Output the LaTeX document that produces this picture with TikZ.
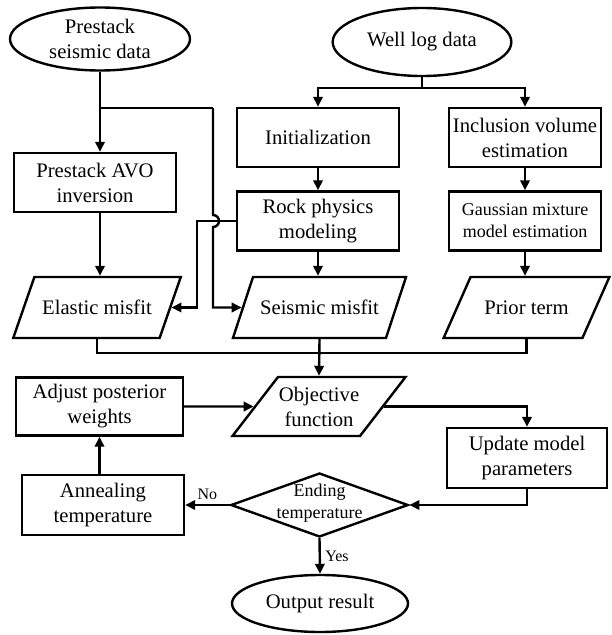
\documentclass[tikz,border=0pt]{standalone}
\usepackage{fontspec}
\setmainfont{Liberation Serif}
\usetikzlibrary{positioning, arrows.meta, shapes.geometric, calc}

\begin{document}
\begin{tikzpicture}[
    x=0.75pt, y=0.75pt,
    line width=1.8pt,
    every node/.style={
        font=\fontsize{15.5}{18.75}\selectfont,
        align=center
    },
    proc/.style={draw, rectangle, minimum width=121.5pt, minimum height=44.25pt, inner sep=2pt},
    data/.style={draw, trapezium, trapezium left angle=61, trapezium right angle=119,
        trapezium stretches=true, minimum height=45.75pt, inner xsep=-12pt},
    term/.style={draw, ellipse, inner sep=0pt},
    decision/.style={draw, diamond, inner sep=0pt, minimum width=133pt, minimum height=48pt},
    small/.style={font=\fontsize{13.5}{16.5}\selectfont},
    tag/.style={font=\fontsize{12}{14}\selectfont},
    arrow/.style={-{Triangle[length=7.5pt, width=7pt]}}
]
\useasboundingbox (0,0) rectangle (611,-635);

% inputs
\node[term, minimum width=135pt, minimum height=47.25pt] (pre) at (100,-39) {Prestack\\seismic data};
\node[term, minimum width=134pt, minimum height=51pt] (well) at (422,-42) {Well log data};

% processing
\node[proc] (avo) at (95,-182.5) {Prestack AVO\\inversion};
\node[proc] (init) at (318,-137.5) {Initialization};
\node[proc, minimum width=114pt] (incl) at (525,-137.5) {Inclusion volume\\estimation};
\node[proc] (rock) at (318,-221) {Rock physics\\modeling};
\node[proc, small, minimum width=114pt] (gmm) at (525,-221) {Gaussian mixture\\model estimation};

% misfit terms
\node[data, minimum width=126pt] (elastic) at (97,-307.5) {Elastic misfit};
\node[data, minimum width=131pt] (seismic) at (319.5,-307.5) {Seismic misfit};
\node[data, minimum width=125pt] (prior) at (526.5,-307.5) {Prior term};
\node[data, minimum width=130.5pt, minimum height=44.25pt] (obj) at (319,-406.5) {Objective\\function};

% annealing loop
\node[proc, minimum width=125pt, minimum height=43.5pt] (adjust) at (99.5,-406.5) {Adjust posterior\\weights};
\node[proc, minimum width=120pt, minimum height=45pt] (update) at (527,-458) {Update model\\parameters};
\node[decision] (ending) at (319.5,-505) {};
\node[small] (endtext) at (319.5,-503) {Ending\\temperature};
\node[proc, minimum height=45pt] (anneal) at (103,-505) {Annealing\\temperature};
\node[term, minimum width=132pt, minimum height=42.75pt] (out) at (320,-603.5) {Output result};

\coordinate (prejoin) at (100,-108);
\coordinate (seisbend) at (213,-108);
\coordinate (elbend) at (197,-221);
\coordinate (wellsplit) at (422,-88);
\coordinate (merge) at (319,-353);

\draw[arrow] (pre.south) -- (pre.south |- avo.north);
\draw (prejoin) -- (seisbend);
\draw[arrow] (seisbend) -- ($(seisbend |- rock.west)+(0,6)$)
    arc[start angle=90, end angle=-90, radius=4.5pt] |- (seismic.west);
\draw[arrow] (rock.west) -- (rock.west -| elbend) |- (elastic.east);

\draw (well.south) -- (wellsplit);
\draw[arrow] (wellsplit) -| (init.north);
\draw[arrow] (wellsplit) -| (incl.north);
\draw[arrow] (init.south) -- (rock.north);
\draw[arrow] (incl.south) -- (gmm.north);
\draw[arrow] (avo.south -| pre.south) -- (elastic.north -| pre.south);
\draw[arrow] (rock.south) -- (rock.south |- seismic.north);
\draw[arrow] (gmm.south) -- (gmm.south |- prior.north);

\draw (elastic.south) |- (merge) -| (prior.south);
\draw[arrow] (seismic.south) -- (obj.north);
\draw[arrow] (adjust.east) -- (obj.west);
\draw[arrow] (obj.east) -| (update.north);
\draw[arrow] (update.south) |- (ending.east);
\draw[arrow] (ending.west) -- node[tag, above] {No} (anneal.east);
\draw[arrow] (anneal.north -| adjust.south) -- (adjust.south);
\draw[arrow] (ending.south) -- node[tag, right] {Yes} (out.north);

\end{tikzpicture}
\end{document}
